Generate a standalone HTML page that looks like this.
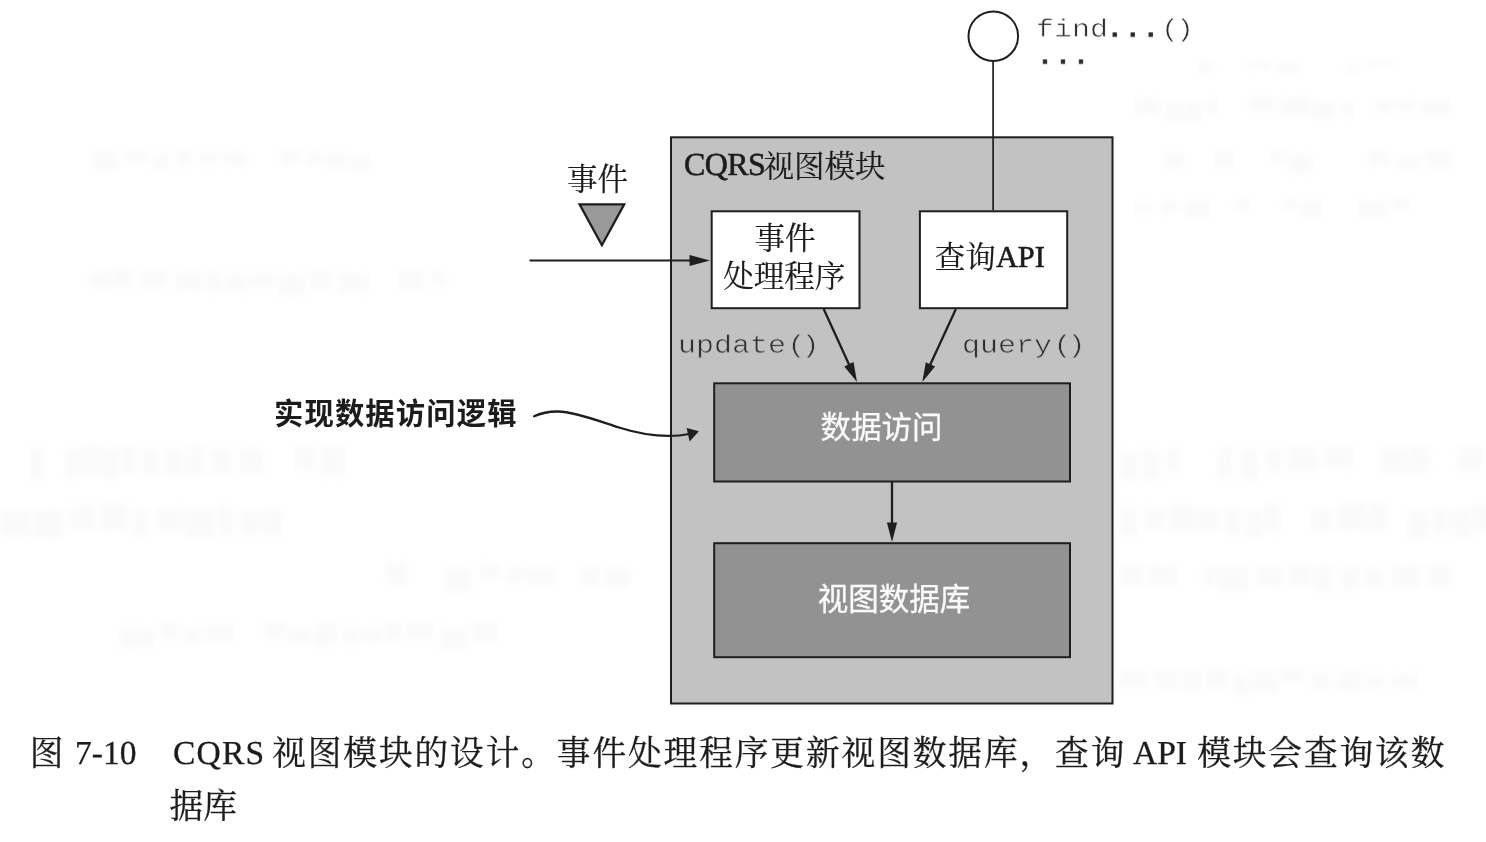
<!DOCTYPE html>
<html lang="zh"><head><meta charset="utf-8"><title>图 7-10 CQRS 视图模块的设计</title>
<style>
html,body{margin:0;padding:0}
body{width:1486px;height:842px;background:#fff;position:relative;overflow:hidden;font-family:"Liberation Serif",serif;color:#1c1c1c}
svg{position:absolute;left:0;top:0}
#pg{position:absolute;left:0;top:0;width:1486px;height:842px;filter:blur(.4px)}
.t{position:absolute;white-space:pre;line-height:1;margin:0;will-change:transform;text-rendering:geometricPrecision;font-kerning:none}
.m{font-family:"Liberation Mono",monospace;font-size:30px;color:#2c2c2c;transform:scaleY(.84);transform-origin:0 0}
.m i{font-style:normal;position:relative}
.m b{font-weight:normal;-webkit-text-stroke:.9px #2c2c2c}
.mg{-webkit-text-stroke:.7px #c2c2c2}
.mw{-webkit-text-stroke:.7px #fff}
.s{font-family:"Liberation Serif",serif;-webkit-text-stroke:.55px #1c1c1c;color:#1c1c1c}
.c{-webkit-text-stroke:.3px #1c1c1c}
.z{position:absolute;white-space:pre;line-height:1;color:transparent;font-family:"Liberation Serif",serif;margin:0}
.song{font-family:"Liberation Serif","Noto Serif CJK SC",serif;font-size:30.5px;fill:#1c1c1c;stroke:#1c1c1c;stroke-width:.2px}
.hei{font-family:"Liberation Sans","Noto Sans CJK SC",sans-serif;font-size:30.5px;fill:#fafafa;stroke:#fafafa;stroke-width:.3px}
.heib{font-family:"Liberation Sans","Noto Sans CJK SC",sans-serif;font-size:29.3px;font-weight:bold;fill:#1c1c1c;letter-spacing:1.15px}
.kai{font-family:"Liberation Serif","Noto Serif CJK SC",serif;font-size:33.7px;fill:#1c1c1c;stroke:#1c1c1c;stroke-width:.3px;letter-spacing:1.9px}
</style></head>
<body>
<div id="pg">
<svg width="1486" height="842" viewBox="0 0 1486 842">
<g>
<g fill="#f9f9f9" opacity=".8" style="filter:blur(3px)"><rect x="29" y="449" width="15" height="30"/><rect x="66" y="448" width="15" height="30"/><rect x="84" y="445" width="16" height="30"/><rect x="103" y="448" width="15" height="31"/><rect x="121" y="446" width="15" height="27"/><rect x="141" y="449" width="18" height="27"/><rect x="165" y="449" width="19" height="28"/><rect x="188" y="445" width="17" height="31"/><rect x="211" y="449" width="20" height="25"/><rect x="239" y="448" width="24" height="26"/><rect x="295" y="447" width="21" height="23"/><rect x="321" y="447" width="24" height="30"/><rect x="0" y="510" width="30" height="26"/><rect x="33" y="509" width="29" height="30"/><rect x="70" y="506" width="24" height="24"/><rect x="100" y="504" width="28" height="27"/><rect x="133" y="509" width="16" height="27"/><rect x="156" y="507" width="28" height="26"/><rect x="186" y="508" width="28" height="30"/><rect x="219" y="506" width="15" height="29"/><rect x="241" y="510" width="21" height="24"/><rect x="264" y="508" width="19" height="27"/><rect x="1198" y="61" width="16" height="11"/><rect x="1248" y="61" width="22" height="8"/><rect x="1276" y="62" width="25" height="12"/><rect x="1345" y="66" width="15" height="6"/><rect x="1365" y="60" width="26" height="7"/><rect x="1135" y="98" width="26" height="17"/><rect x="1166" y="102" width="19" height="20"/><rect x="1187" y="102" width="14" height="19"/><rect x="1205" y="99" width="14" height="14"/><rect x="1250" y="98" width="25" height="13"/><rect x="1280" y="98" width="29" height="18"/><rect x="1311" y="101" width="24" height="18"/><rect x="1341" y="102" width="14" height="15"/><rect x="1376" y="100" width="16" height="12"/><rect x="1396" y="99" width="19" height="12"/><rect x="1421" y="99" width="30" height="17"/><rect x="1163" y="153" width="21" height="15"/><rect x="1213" y="151" width="22" height="15"/><rect x="1269" y="151" width="16" height="13"/><rect x="1288" y="154" width="24" height="20"/><rect x="1369" y="151" width="20" height="14"/><rect x="1397" y="155" width="24" height="14"/><rect x="1426" y="150" width="26" height="18"/><rect x="1135" y="202" width="18" height="11"/><rect x="1161" y="202" width="18" height="11"/><rect x="1186" y="202" width="25" height="16"/><rect x="1234" y="199" width="17" height="12"/><rect x="1282" y="200" width="14" height="10"/><rect x="1299" y="201" width="24" height="16"/><rect x="1357" y="202" width="30" height="16"/><rect x="1393" y="198" width="18" height="11"/><rect x="1120" y="451" width="19" height="29"/><rect x="1142" y="450" width="18" height="30"/><rect x="1166" y="449" width="15" height="23"/><rect x="1218" y="447" width="15" height="31"/><rect x="1241" y="449" width="17" height="31"/><rect x="1266" y="449" width="16" height="23"/><rect x="1288" y="447" width="30" height="24"/><rect x="1324" y="446" width="29" height="23"/><rect x="1380" y="448" width="27" height="26"/><rect x="1409" y="446" width="21" height="27"/><rect x="1458" y="446" width="25" height="24"/><rect x="1120" y="507" width="17" height="29"/><rect x="1144" y="507" width="21" height="23"/><rect x="1170" y="506" width="24" height="26"/><rect x="1196" y="508" width="25" height="24"/><rect x="1226" y="508" width="14" height="27"/><rect x="1246" y="510" width="16" height="28"/><rect x="1264" y="504" width="16" height="29"/><rect x="1310" y="508" width="22" height="23"/><rect x="1338" y="504" width="29" height="27"/><rect x="1369" y="504" width="19" height="27"/><rect x="1408" y="510" width="21" height="30"/><rect x="1434" y="508" width="14" height="25"/><rect x="1452" y="509" width="18" height="28"/><rect x="1472" y="505" width="19" height="28"/><rect x="1120" y="564" width="23" height="22"/><rect x="1148" y="565" width="30" height="21"/><rect x="1202" y="567" width="14" height="18"/><rect x="1219" y="566" width="30" height="25"/><rect x="1256" y="567" width="27" height="20"/><rect x="1289" y="564" width="23" height="21"/><rect x="1315" y="565" width="18" height="26"/><rect x="1341" y="568" width="18" height="22"/><rect x="1364" y="568" width="19" height="20"/><rect x="1391" y="565" width="30" height="23"/><rect x="1428" y="564" width="23" height="24"/><rect x="1120" y="670" width="28" height="17"/><rect x="1154" y="670" width="24" height="19"/><rect x="1182" y="671" width="19" height="21"/><rect x="1206" y="669" width="22" height="19"/><rect x="1234" y="674" width="14" height="21"/><rect x="1251" y="671" width="26" height="22"/><rect x="1281" y="668" width="23" height="14"/><rect x="1312" y="673" width="18" height="16"/><rect x="1338" y="671" width="24" height="20"/><rect x="1366" y="674" width="18" height="14"/><rect x="1391" y="674" width="27" height="14"/><rect x="386" y="563" width="21" height="22"/><rect x="444" y="568" width="28" height="24"/><rect x="479" y="563" width="21" height="17"/><rect x="508" y="567" width="16" height="16"/><rect x="526" y="568" width="30" height="17"/><rect x="579" y="568" width="20" height="17"/><rect x="604" y="568" width="26" height="20"/><rect x="120" y="627" width="15" height="21"/><rect x="137" y="627" width="18" height="20"/><rect x="161" y="622" width="18" height="17"/><rect x="183" y="627" width="17" height="17"/><rect x="204" y="625" width="30" height="17"/><rect x="265" y="622" width="20" height="17"/><rect x="287" y="628" width="23" height="16"/><rect x="315" y="623" width="22" height="23"/><rect x="343" y="626" width="16" height="20"/><rect x="363" y="627" width="18" height="16"/><rect x="385" y="623" width="17" height="17"/><rect x="407" y="622" width="26" height="17"/><rect x="440" y="627" width="28" height="22"/><rect x="473" y="622" width="25" height="19"/><rect x="92" y="151" width="26" height="20"/><rect x="125" y="150" width="23" height="14"/><rect x="153" y="153" width="16" height="16"/><rect x="177" y="150" width="15" height="16"/><rect x="199" y="152" width="18" height="14"/><rect x="223" y="152" width="24" height="14"/><rect x="281" y="150" width="20" height="14"/><rect x="306" y="152" width="18" height="13"/><rect x="326" y="153" width="18" height="15"/><rect x="348" y="155" width="23" height="16"/><rect x="90" y="272" width="21" height="16"/><rect x="113" y="268" width="19" height="19"/><rect x="138" y="271" width="29" height="17"/><rect x="175" y="272" width="28" height="19"/><rect x="206" y="272" width="16" height="21"/><rect x="226" y="274" width="21" height="19"/><rect x="249" y="273" width="27" height="14"/><rect x="279" y="274" width="26" height="22"/><rect x="310" y="270" width="22" height="20"/><rect x="339" y="274" width="30" height="19"/><rect x="398" y="271" width="26" height="18"/><rect x="432" y="271" width="14" height="15"/></g>
<rect x="671.0" y="137.3" width="441.5" height="566.2" fill="#c2c2c2" stroke="#1e1e1e" stroke-width="2"/>
<rect x="711.7" y="211.3" width="147.8" height="96.9" fill="#fff" stroke="#1e1e1e" stroke-width="2"/>
<rect x="919.9" y="211.3" width="147.3" height="96.9" fill="#fff" stroke="#1e1e1e" stroke-width="2"/>
<rect x="714.2" y="383.3" width="355.8" height="98.2" fill="#929292" stroke="#1e1e1e" stroke-width="2"/>
<rect x="714.2" y="543.2" width="355.8" height="114" fill="#929292" stroke="#1e1e1e" stroke-width="2"/>
<circle cx="993.3" cy="36.2" r="24.8" fill="#fff" stroke="#1e1e1e" stroke-width="2"/>
<line x1="993.1" y1="61.5" x2="993.1" y2="210.5" stroke="#1e1e1e" stroke-width="1.7"/>
<path d="M579.6 204.3L624.2 204.3L601.9 245.2Z" fill="#999" stroke="#1e1e1e" stroke-width="2.3" stroke-linejoin="miter"/>
<line x1="529.5" y1="260.5" x2="693" y2="260.5" stroke="#1e1e1e" stroke-width="2.1"/>
<path d="M710 260.5L689.5 255L689.5 266Z" fill="#1e1e1e"/>
<line x1="823.7" y1="309.0" x2="849.7" y2="366.1" stroke="#1e1e1e" stroke-width="2.3"/>
<path d="M857.0 382.0L844.3 366.4L853.5 362.1Z" fill="#1e1e1e"/>
<line x1="955.9" y1="309.0" x2="929.6" y2="366.1" stroke="#1e1e1e" stroke-width="2.3"/>
<path d="M922.3 382.0L925.8 362.2L935.1 366.4Z" fill="#1e1e1e"/>
<line x1="892.0" y1="482.0" x2="892.0" y2="524.5" stroke="#1e1e1e" stroke-width="2.3"/>
<path d="M892.0 542.0L886.9 522.5L897.1 522.5Z" fill="#1e1e1e"/>
<path d="M534.1 416.3C541 413 550 411.4 558.2 411.5C575 411.6 600 421.5 618.9 427.5C636 432.9 652 435.9 668.4 435.9C676 435.9 683 435.3 689 434" fill="none" stroke="#1e1e1e" stroke-width="2.3" stroke-linecap="round"/>
<path d="M698.9 431.2L686.6 428L689.6 441.4Z" fill="#1e1e1e"/>
</g>
<g>
<text class="song" x="763.56" y="177.06">视图模块</text>
<text class="song" x="567.10" y="189.57">事件</text>
<text class="song" x="754.50" y="249.47">事件</text>
<text class="song" x="723.24" y="287.07">处理程序</text>
<text class="song" x="934.74" y="268.26">查询</text>
<text class="hei" x="820.42" y="438.06">数据访问</text>
<text class="hei" x="817.76" y="609.93">视图数据库</text>
<text class="heib" x="274.01" y="424.01">实现数据访问逻辑</text>
<text class="kai" x="29.71" y="764.69">图</text>
<text class="kai" x="272.15" y="764.69">视图模块的设计。事件处理程序更新视图数据库，查询</text>
<text class="kai" x="1197.15" y="764.69">模块会查询该数</text>
<text class="kai" x="169.60" y="818.29" style="letter-spacing:0">据库</text>
</g>
</svg>
<div class="t m mw" style="left:1035.6px;top:18.4px;">find<b style="position:relative;left:-2.2px">...</b><i style="left:-1.1px">(</i><i style="left:-4.1px">)</i></div>
<div class="t m mw" style="left:1035.6px;top:45.4px;"><b>...</b></div>
<div class="t m mg" style="left:678.3px;top:333.5px;">update<i style="left:1.5px">(</i><i style="left:-2.6px">)</i></div>
<div class="t m mg" style="left:961.5px;top:333.5px;">query<i style="left:1.5px">(</i><i style="left:-2.6px">)</i></div>
<div class="t s" style="left:683.8px;top:147.6px;font-size:32.0px;letter-spacing:-.6px;">CQRS</div>
<div class="t s" style="left:996.3px;top:242.0px;font-size:30.4px;letter-spacing:-.1px;">API</div>
<div class="t s c" style="left:74.5px;top:737.0px;font-size:33.5px;">7-10</div>
<div class="t s c" style="left:173.0px;top:737.0px;font-size:33.5px;letter-spacing:1.2px;">CQRS</div>
<div class="t s c" style="left:1133.0px;top:737.0px;font-size:33.5px;">API</div>
</div>
</body></html>
